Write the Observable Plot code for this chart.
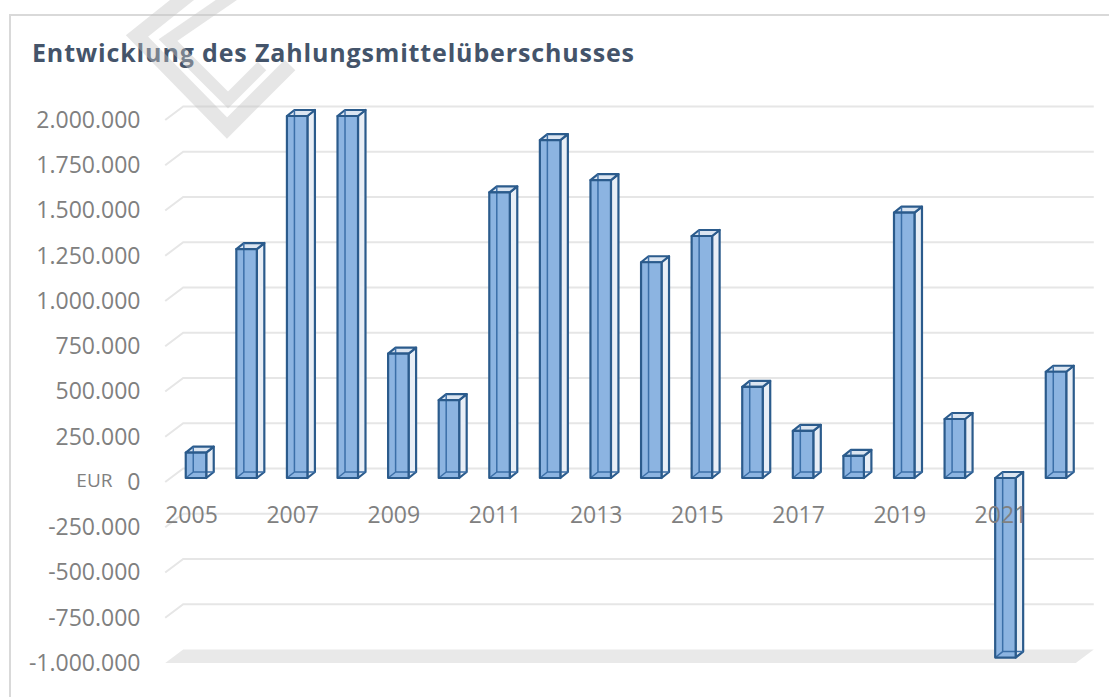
<!DOCTYPE html>
<html>
<head>
<meta charset="utf-8">
<script src="https://cdn.jsdelivr.net/npm/d3@7"></script>
<script src="https://cdn.jsdelivr.net/npm/@observablehq/plot@0.6"></script>
<style>
  html, body { margin: 0; padding: 0; background: #ffffff; }
  body { width: 1109px; height: 697px; overflow: hidden; position: relative; font-family: "Open Sans", sans-serif; }
  #frame { position: absolute; left: 9px; top: 14px; width: 1140px; height: 720px; border: 2px solid #d9d9d9; box-sizing: border-box; }
  #chart { position: absolute; left: 0; top: 0; }
  #title { position: absolute; left: 32px; top: 40px; line-height: 25px; font-size: 25px; font-weight: 700; color: #44546a; white-space: nowrap; letter-spacing: 0.85px; }
  #wm { position: absolute; left: 0; top: 0; pointer-events: none; }
</style>
</head>
<body>
<div id="frame"></div>
<div id="chart"></div>
<div id="title"></div>
<svg id="wm" width="1109" height="697"></svg>
<script>
// ---- Data ----
const chartTitle = "Entwicklung des Zahlungsmittelüberschusses";
const unitLabel = "EUR";
const years = [2005, 2006, 2007, 2008, 2009, 2010, 2011, 2012, 2013, 2014, 2015, 2016, 2017, 2018, 2019, 2020, 2021, 2022];
const values = [140000, 1265000, 2000000, 2000000, 687000, 430000, 1578000, 1867000, 1646000, 1192000, 1337000, 503000, 260000, 122000, 1466000, 326000, -992000, 587000];
const yTicks = [-1000000, -750000, -500000, -250000, 0, 250000, 500000, 750000, 1000000, 1250000, 1500000, 1750000, 2000000];
const xTickYears = [2005, 2007, 2009, 2011, 2013, 2015, 2017, 2019, 2021];

// ---- Build ----
document.getElementById("title").textContent = chartTitle;
const bars = years.map((year, i) => ({year, value: values[i]}));
const de = d3.formatLocale({decimal: ",", thousands: ".", grouping: [3], currency: ["", " €"], minus: "-"});
const fmt = de.format(",d");

const HW = 0.2025;          // half bar width (in years)
const DX = 7.5, DY = -6;    // bar depth offset (px)
const FX = -5.5, FY = 4;    // floor front offset (px)
const BX = 12.5, BY = -9.5; // back wall offset (px)
const STROKE = "#2b5b8c";
const GRID = "#e6e6e6";
const TEXT = "#808080";
const xMin = 2004.5, xMax = 2022.5;
const yMin = yTicks[0];

function floorMark(index, {x, y}) {
  const g = d3.create("svg:g");
  const yf = y(yMin);
  const xl = x(xMin), xr = x(xMax);
  g.append("path")
    .attr("d", `M${xl + FX},${yf + FY}L${xl + BX},${yf + BY}L${xr + BX},${yf + BY}L${xr + FX},${yf + FY}Z`)
    .attr("fill", "#e9e9e9");
  return g.node();
}

function gridMark(index, {x, y}) {
  const g = d3.create("svg:g").attr("fill", "none").attr("stroke", GRID).attr("stroke-width", 2);
  const xl = x(xMin), xr = x(xMax);
  for (const t of yTicks.slice(1)) {
    const yy = y(t);
    g.append("path").attr("d", `M${xl + FX},${yy + FY}L${xl + BX},${yy + BY}L${xr + BX},${yy + BY}`);
  }
  return g.node();
}

function sideTopMark(index, {x, y}) {
  const g = d3.create("svg:g").attr("stroke", STROKE).attr("stroke-width", 2.2).attr("stroke-linejoin", "round");
  for (const d of bars) {
    const xl = x(d.year - HW), xr = x(d.year + HW);
    const yt = y(Math.max(d.value, 0)), yb = y(Math.min(d.value, 0));
    g.append("path")
      .attr("d", `M${xr},${yt}L${xr + DX},${yt + DY}L${xr + DX},${yb + DY}L${xr},${yb}Z`)
      .attr("fill", "#e8eef6");
    g.append("path")
      .attr("d", `M${xl},${yt}L${xl + DX},${yt + DY}L${xr + DX},${yt + DY}L${xr},${yt}Z`)
      .attr("fill", "#dbe5f1");
  }
  return g.node();
}

function hiddenEdgeMark(index, {x, y}) {
  const g = d3.create("svg:g").attr("fill", "none").attr("stroke", "#3b6fa8").attr("stroke-width", 1.5);
  for (const d of bars) {
    const xl = x(d.year - HW), xr = x(d.year + HW);
    const yt = y(Math.max(d.value, 0)), yb = y(Math.min(d.value, 0));
    g.append("path")
      .attr("d", `M${xl + DX},${yt + DY}L${xl + DX},${yb + DY}L${xr + DX},${yb + DY}M${xl},${yb}L${xl + DX},${yb + DY}`);
  }
  return g.node();
}

const plot = Plot.plot({
  width: 1109,
  height: 697,
  marginTop: 0, marginBottom: 0, marginLeft: 0, marginRight: 0,
  style: {background: "transparent", fontFamily: "'Open Sans', sans-serif", overflow: "visible"},
  x: {type: "linear", domain: [xMin, xMax], range: [170.7, 1081.3], axis: null},
  y: {type: "linear", domain: [yTicks[0], yTicks[yTicks.length - 1]], range: [659, 116], axis: null},
  marks: [
    floorMark,
    gridMark,
    sideTopMark,
    Plot.rect(bars, {
      x1: d => d.year - HW, x2: d => d.year + HW,
      y1: d => Math.min(d.value, 0), y2: d => Math.max(d.value, 0),
      fill: "#8cb4e1"
    }),
    hiddenEdgeMark,
    Plot.rect(bars, {
      x1: d => d.year - HW, x2: d => d.year + HW,
      y1: d => Math.min(d.value, 0), y2: d => Math.max(d.value, 0),
      fill: "none", stroke: STROKE, strokeWidth: 2.2, strokeLinejoin: "round"
    }),
    Plot.text(yTicks, {
      x: xMin, y: d => d, text: d => fmt(d),
      textAnchor: "end", dx: 140 - 170.7, dy: 4,
      fill: TEXT, fontSize: 23, letterSpacing: 0.8
    }),
    Plot.text([0], {
      x: xMin, y: d => d, text: () => unitLabel,
      textAnchor: "end", dx: 112 - 170.7, dy: 2,
      fill: TEXT, fontSize: 19
    }),
    Plot.text(xTickYears, {
      x: d => d, y: 0, text: d => String(d),
      textAnchor: "middle", dx: -5, dy: 37,
      fill: TEXT, fontSize: 23, letterSpacing: 0.5
    })
  ]
});
document.getElementById("chart").appendChild(plot);

// decorative watermark overlay
const wm = d3.select("#wm");
wm.append("path").attr("d", "M192,-8L137,36L227,128L290,65")
  .attr("fill", "none").attr("stroke", "rgba(195,195,195,0.42)").attr("stroke-width", 15).attr("stroke-linejoin", "miter");
wm.append("path").attr("d", "M238,-8L168,40L228,100L262,66")
  .attr("fill", "none").attr("stroke", "rgba(195,195,195,0.42)").attr("stroke-width", 12).attr("stroke-linejoin", "miter");
</script>
</body>
</html>
